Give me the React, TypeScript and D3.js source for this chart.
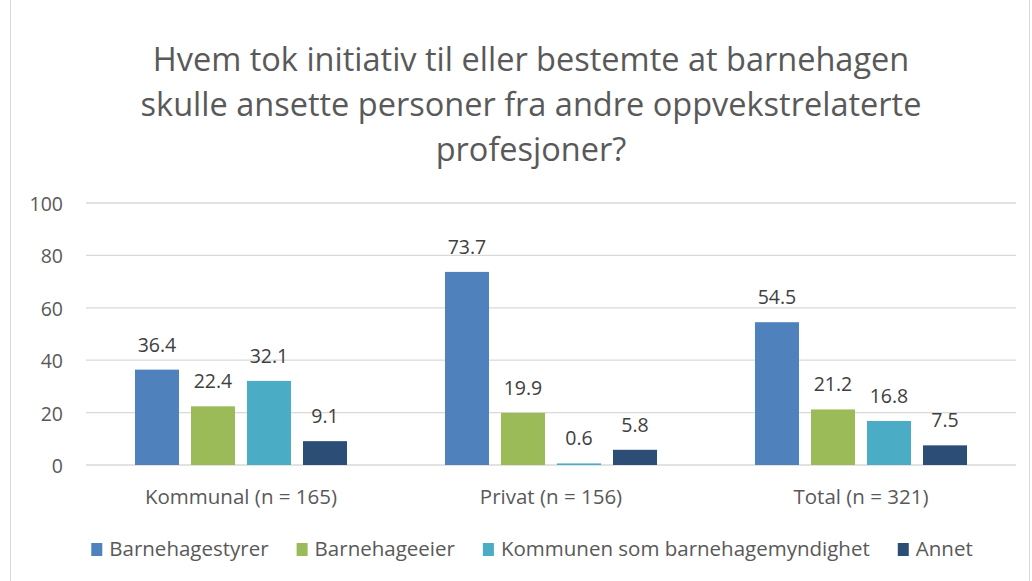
import React, { useEffect, useRef } from 'react';
import * as d3 from 'd3';

const titleLines = [
  'Hvem tok initiativ til eller bestemte at barnehagen',
  'skulle ansette personer fra andre oppvekstrelaterte',
  'profesjoner?',
];
const categories = ['Kommunal (n = 165)', 'Privat (n = 156)', 'Total (n = 321)'];
const seriesNames = ['Barnehagestyrer', 'Barnehageeier', 'Kommunen som barnehagemyndighet', 'Annet'];
const barnehagestyrer = [36.4, 73.7, 54.5];
const barnehageeier = [22.4, 19.9, 21.2];
const kommunen = [32.1, 0.6, 16.8];
const annet = [9.1, 5.8, 7.5];
const yTicks = [0, 20, 40, 60, 80, 100];

const colors = ['#4F81BD', '#9BBB59', '#4BACC6', '#2C4D75'];
const FONT = "'Open Sans', 'Liberation Sans', sans-serif";
const TEXT = '#595959';
const FS = 19.5;
const FS_CAT = 20.5;

const App = () => {
  const ref = useRef<SVGSVGElement>(null);

  useEffect(() => {
    const width = 1032;
    const height = 581;
    const svg = d3.select(ref.current).attr('width', width).attr('height', height);
    svg.selectAll('*').remove();

    const series = [barnehagestyrer, barnehageeier, kommunen, annet];

    // chart area border
    svg.append('rect')
      .attr('x', 10.5).attr('y', -2)
      .attr('width', 1019).attr('height', 600)
      .attr('fill', 'white')
      .attr('stroke', '#d9d9d9');

    // title
    svg.append('text')
      .attr('x', 531)
      .attr('text-anchor', 'middle')
      .attr('font-family', FONT)
      .attr('font-size', 32.5)
      .attr('fill', TEXT)
      .selectAll('tspan')
      .data(titleLines)
      .enter().append('tspan')
      .attr('x', 531)
      .attr('y', (d, i) => 71 + i * 45)
      .text(d => d);

    const left = 86, right = 1016;
    const y = d3.scaleLinear().domain([0, 100]).range([465, 203]);
    const x0 = d3.scaleBand().domain(categories).range([left, right]).paddingInner(0.316).paddingOuter(0.158);
    const x1 = d3.scaleBand().domain(seriesNames).range([0, x0.bandwidth()]).paddingInner(0.214).paddingOuter(0);

    // gridlines
    svg.append('g').selectAll('line')
      .data(yTicks)
      .enter().append('line')
      .attr('x1', left).attr('x2', right)
      .attr('y1', d => y(d)).attr('y2', d => y(d))
      .attr('stroke', '#d9d9d9')
      .attr('stroke-width', 1.3);

    // y labels
    svg.append('g').selectAll('text')
      .data(yTicks)
      .enter().append('text')
      .attr('x', 63)
      .attr('y', d => y(d) + 8)
      .attr('text-anchor', 'end')
      .attr('font-family', FONT)
      .attr('font-size', FS)
      .attr('fill', TEXT)
      .text(d => d);

    // bars + labels
    const groups = svg.append('g').selectAll('g')
      .data(categories)
      .enter().append('g')
      .attr('transform', d => `translate(${x0(d)},0)`);

    groups.each(function (cat, ci) {
      const g = d3.select(this);
      const vals = series.map((s, si) => ({ name: seriesNames[si], value: s[ci], color: colors[si] }));
      g.selectAll('rect')
        .data(vals)
        .enter().append('rect')
        .attr('x', d => x1(d.name)!)
        .attr('width', x1.bandwidth())
        .attr('y', d => y(d.value))
        .attr('height', d => y(0) - y(d.value))
        .attr('fill', d => d.color);
      g.selectAll('text')
        .data(vals)
        .enter().append('text')
        .attr('x', d => x1(d.name)! + x1.bandwidth() / 2)
        .attr('y', d => y(d.value) - 18)
        .attr('text-anchor', 'middle')
        .attr('font-family', FONT)
        .attr('font-size', FS)
        .attr('fill', '#404040')
        .text(d => d.value.toFixed(1));
    });

    // category labels
    svg.append('g').selectAll('text')
      .data(categories)
      .enter().append('text')
      .attr('x', d => x0(d)! + x0.bandwidth() / 2)
      .attr('y', 504)
      .attr('text-anchor', 'middle')
      .attr('font-family', FONT)
      .attr('font-size', FS_CAT)
      .attr('fill', TEXT)
      .text(d => d);

    // legend
    const legend = svg.append('g');
    const items = legend.selectAll('g')
      .data(seriesNames)
      .enter().append('g');
    items.append('rect')
      .attr('width', 11).attr('height', 13)
      .attr('y', 543)
      .attr('fill', (d, i) => colors[i]);
    items.append('text')
      .attr('x', 18)
      .attr('y', 556)
      .attr('font-family', FONT)
      .attr('font-size', FS_CAT)
      .attr('fill', TEXT)
      .text(d => d);
    const widths: number[] = [];
    items.select('text').each(function () {
      widths.push((this as SVGTextElement).getComputedTextLength() + 18);
    });
    const gap = 28;
    const total = d3.sum(widths) + gap * (widths.length - 1);
    let cx = 532 - total / 2;
    items.attr('transform', (d, i) => {
      const t = `translate(${cx},0)`;
      cx += widths[i] + gap;
      return t;
    });
  }, []);

  return (
    <svg ref={ref} style={{ position: 'absolute', left: 0, top: 0 }}></svg>
  );
};

export default App;
